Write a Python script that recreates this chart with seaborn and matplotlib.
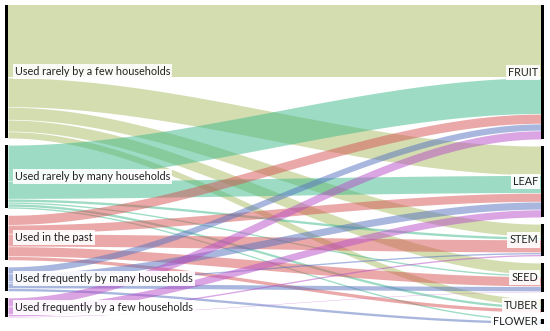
import numpy as np
import seaborn as sns
import matplotlib.pyplot as plt
from matplotlib.patches import Rectangle

# nodes
sources = ["Used rarely by a few households", "Used rarely by many households", "Used in the past",
           "Used frequently by many households", "Used frequently by a few households"]
targets = ["FRUIT", "LEAF", "STEM", "SEED", "TUBER", "FLOWER"]

# flow sizes, rows = sources, columns = targets
flows = [
    [74, 30, 13, 12, 7, 0],
    [37, 18, 3, 2, 3, 2],
    [10, 9, 13, 10, 4, 0],
    [7, 8, 2, 5, 0, 3],
    [9, 8, 2, 1, 0, 0],
]
source_colors = ["#a9bc63", "#3cb98a", "#d65353", "#5571c1", "#b74dc7"]

# layout (pixel space)
W, H = 550, 331
X_LEFT, X_RIGHT, BAR_W = 5, 541, 3
TOP, GAP, SCALE = 5, 6.5, 0.98

sns.set_theme(style="white")
plt.rcParams['font.family'] = ['Lato', 'DejaVu Sans']

flows = np.array(flows, dtype=float)
src_h = flows.sum(axis=1) * SCALE
tgt_h = flows.sum(axis=0) * SCALE
src_y = TOP + np.concatenate([[0], np.cumsum(src_h + GAP)[:-1]])
tgt_y = TOP + np.concatenate([[0], np.cumsum(tgt_h + GAP)[:-1]])

fig = plt.figure(figsize=(W / 100, H / 100), dpi=100)
ax = fig.add_axes([0, 0, 1, 1])
ax.set_xlim(0, W)
ax.set_ylim(H, 0)
ax.axis("off")

# links: smooth s-shaped bands from source slot to target slot
x0, x1 = X_LEFT + BAR_W, X_RIGHT
u = np.linspace(0, 1, 200)
s = 3 * u ** 2 - 2 * u ** 3
xs = x0 + (x1 - x0) * u
src_cur = src_y.copy()
tgt_cur = tgt_y.copy()
for i in range(len(sources)):
    for j in range(len(targets)):
        v = flows[i, j] * SCALE
        if v <= 0:
            continue
        ya, yb = src_cur[i], tgt_cur[j]
        top = ya + (yb - ya) * s
        ax.fill_between(xs, top + 0.3, top + v - 0.3, color=source_colors[i], alpha=0.5, lw=0)
        src_cur[i] += v
        tgt_cur[j] += v

# node bars
for y, h in zip(src_y, src_h):
    ax.add_patch(Rectangle((X_LEFT, y), BAR_W, h, color="black", lw=0))
for y, h in zip(tgt_y, tgt_h):
    ax.add_patch(Rectangle((X_RIGHT, y), BAR_W, h, color="black", lw=0))

box = dict(facecolor="white", edgecolor="none", pad=1.5, alpha=0.9)
for name, y, h in zip(sources, src_y, src_h):
    ax.text(X_LEFT + BAR_W + 7, y + h / 2, name, ha="left", va="center", fontsize=7.8,
            color="#222222", bbox=box)
for name, y, h in zip(targets, tgt_y, tgt_h):
    ax.text(X_RIGHT - 3, y + h / 2, name, ha="right", va="center", fontsize=7.8,
            color="#222222", bbox=box)

fig.savefig("out.png", dpi=100)
